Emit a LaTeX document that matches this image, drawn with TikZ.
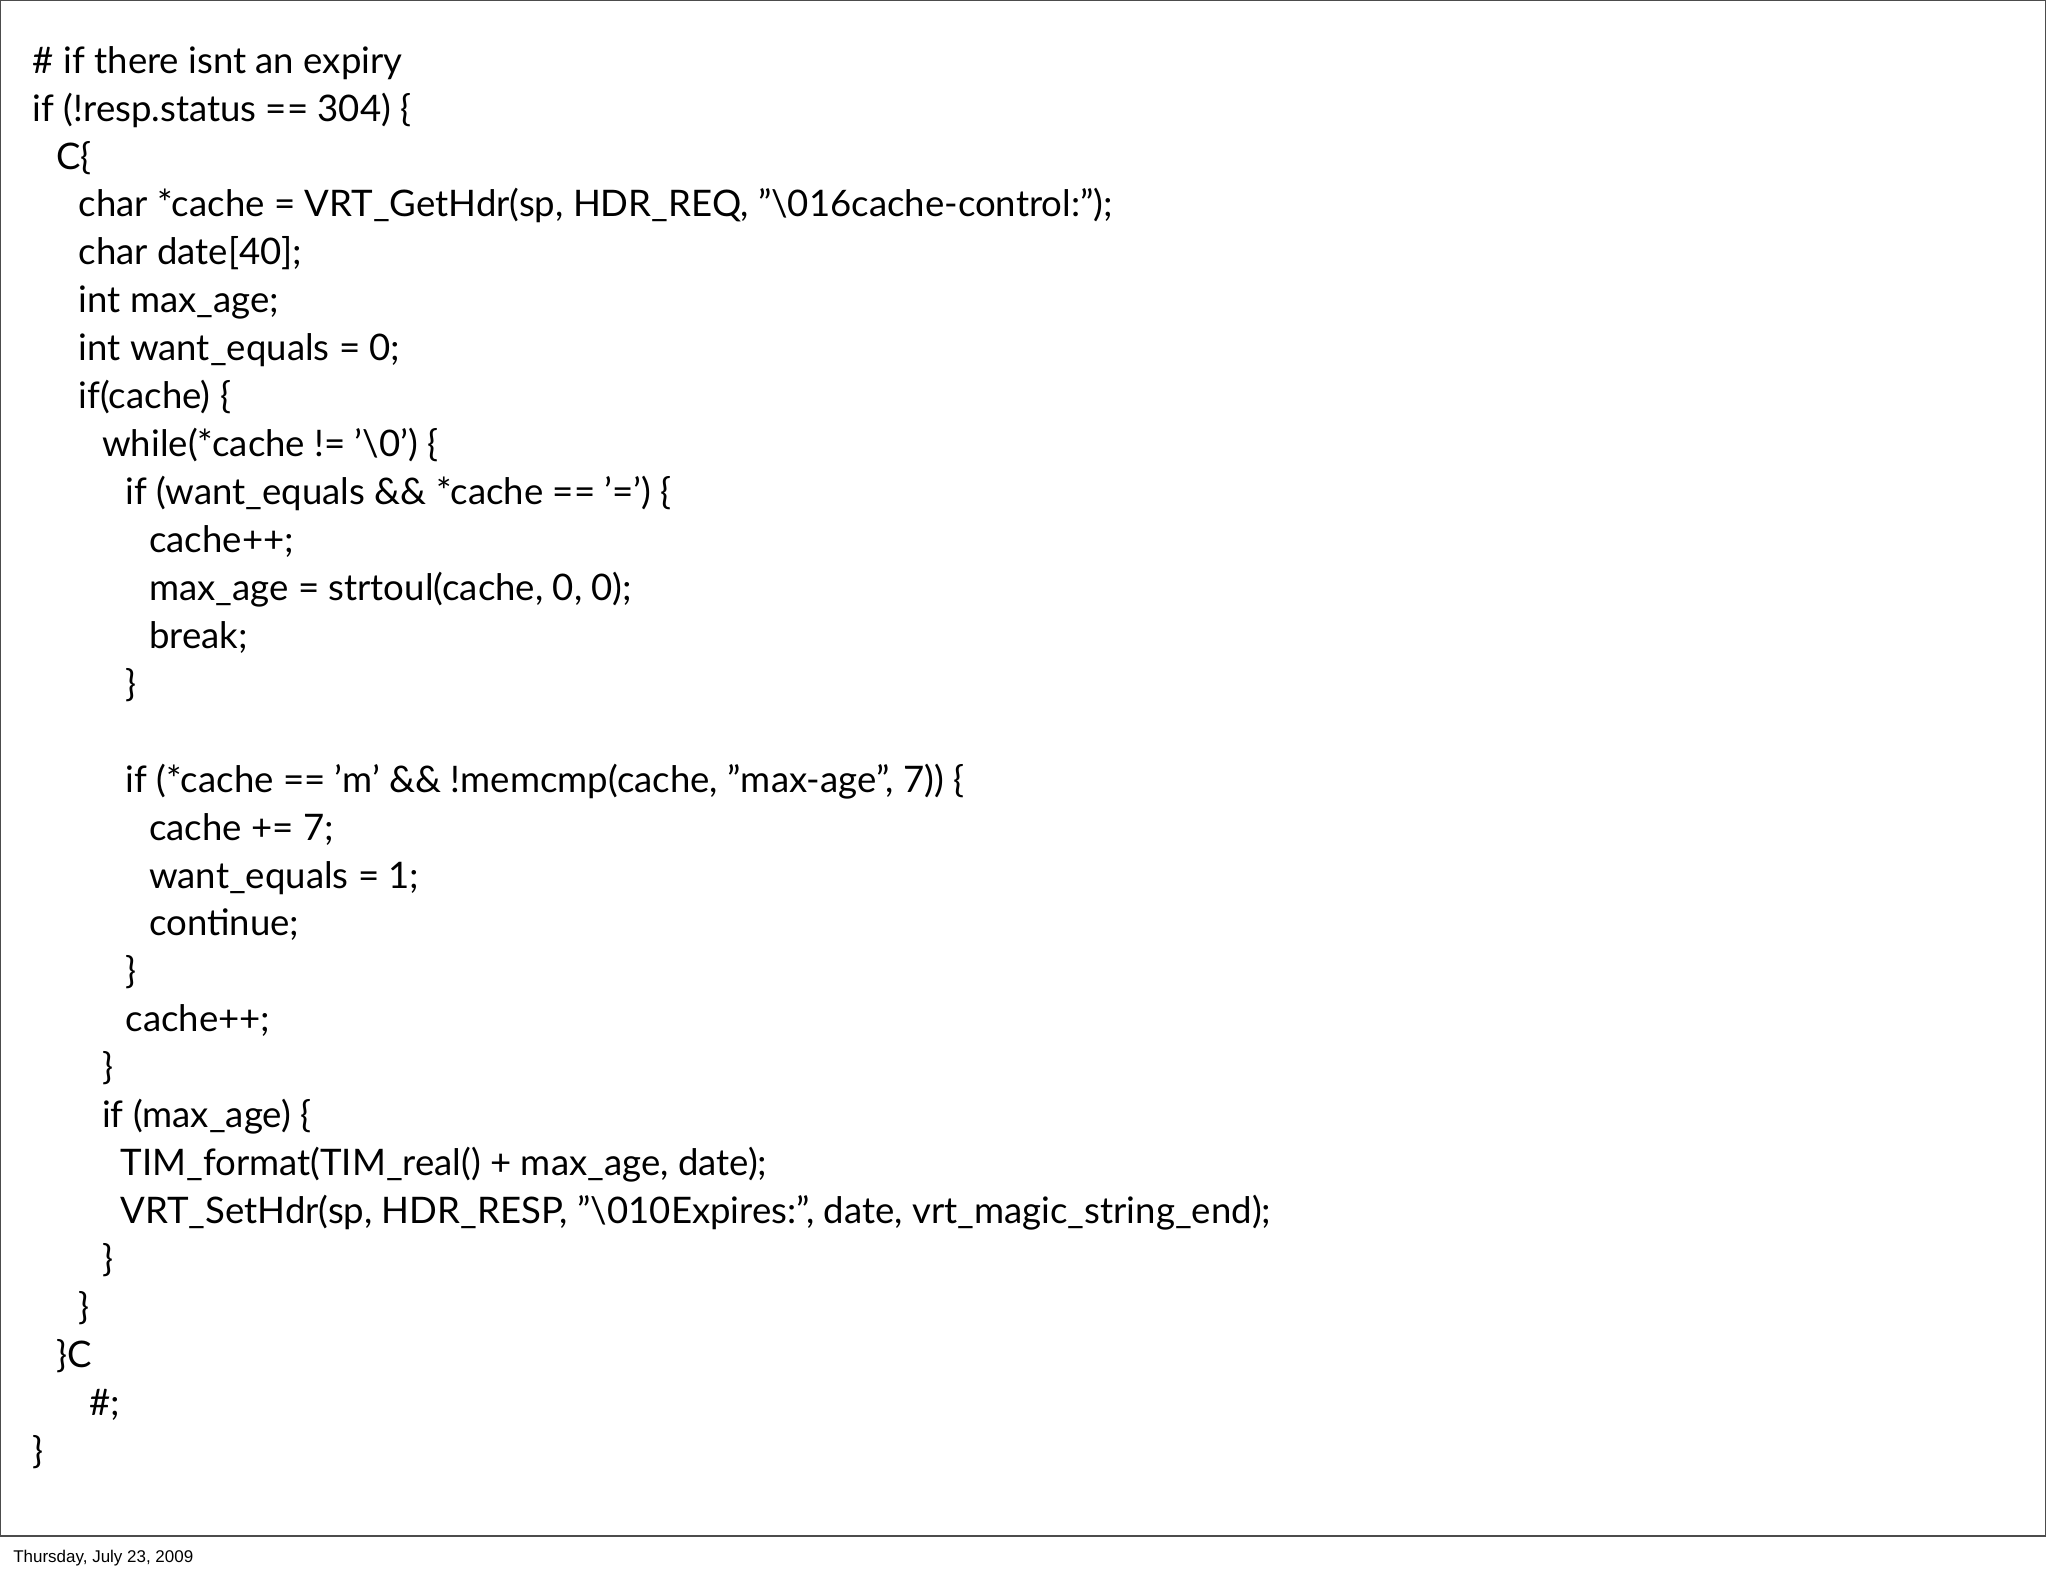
\documentclass[tikz,border=0pt]{standalone}
\usepackage{fontspec}
\setmainfont{Lato}
\newfontfamily\footfont{Liberation Sans}
\begin{document}
\begin{tikzpicture}[x=1pt,y=-1pt,
  code/.style={anchor=base west,inner sep=0pt,font=\fontsize{28}{30}\selectfont},
  foot/.style={anchor=base west,inner sep=0pt,font=\footfont\fontsize{13}{15}\selectfont}]
\useasboundingbox (0,0) rectangle (1568,1206);
\draw[line width=1pt,black!70] (0.5,0.5) rectangle (1566,1176) ;
\def\ly#1{56+36.7*#1}
\node[code] (l0) at (25,{\ly{0}}) {\# if there isnt an expiry};
\node[code] (l1) at (25,{\ly{1}}) {if (!resp.status == 304) \{};
\node[code] (l2) at (43,{\ly{2}}) {C\{};
\node[code] (l3) at (60,{\ly{3}}) {char *cache = VRT\_GetHdr(sp, HDR\_REQ, "\textbackslash 016cache-control:");};
\node[code] (l4) at (60,{\ly{4}}) {char date[40];};
\node[code] (l5) at (60,{\ly{5}}) {int max\_age;};
\node[code] (l6) at (60,{\ly{6}}) {int want\_equals = 0;};
\node[code] (l7) at (60,{\ly{7}}) {if(cache) \{};
\node[code] (l8) at (78,{\ly{8}}) {while(*cache != '\textbackslash 0') \{};
\node[code] (l9) at (96,{\ly{9}}) {if (want\_equals \&\& *cache == '=') \{};
\node[code] (l10) at (114,{\ly{10}}) {cache++;};
\node[code] (l11) at (114,{\ly{11}}) {max\_age = strtoul(cache, 0, 0);};
\node[code] (l12) at (114,{\ly{12}}) {break;};
\node[code] (l13) at (96,{\ly{13}}) {\}};
\node[code] (l15) at (96,{\ly{15}}) {if (*cache == 'm' \&\& !memcmp(cache, "max-age", 7)) \{};
\node[code] (l16) at (114,{\ly{16}}) {cache += 7;};
\node[code] (l17) at (114,{\ly{17}}) {want\_equals = 1;};
\node[code] (l18) at (114,{\ly{18}}) {continue;};
\node[code] (l19) at (96,{\ly{19}}) {\}};
\node[code] (l20) at (96,{\ly{20}}) {cache++;};
\node[code] (l21) at (78,{\ly{21}}) {\}};
\node[code] (l22) at (78,{\ly{22}}) {if (max\_age) \{};
\node[code] (l23) at (92,{\ly{23}}) {TIM\_format(TIM\_real() + max\_age, date);};
\node[code] (l24) at (92,{\ly{24}}) {VRT\_SetHdr(sp, HDR\_RESP, "\textbackslash 010Expires:", date, vrt\_magic\_string\_end);};
\node[code] (l25) at (78,{\ly{25}}) {\}};
\node[code] (l26) at (60,{\ly{26}}) {\}};
\node[code] (l27) at (43,{\ly{27}}) {\}C};
\node[code] (l28) at (68,{\ly{28}}) {\#;};
\node[code] (l29) at (25,{\ly{29}}) {\}};
\node[foot] (ft) at (10,1196) {Thursday, July 23, 2009};
\end{tikzpicture}
\end{document}
